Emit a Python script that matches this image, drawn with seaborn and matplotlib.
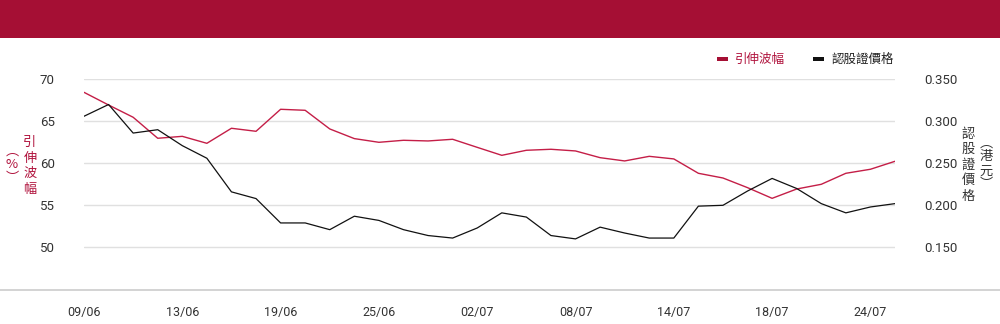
import matplotlib
matplotlib.use("Agg")
import matplotlib.pyplot as plt
import seaborn as sns
import pandas as pd
from matplotlib.lines import Line2D
from matplotlib.patches import Rectangle

dates = ["09/06", "10/06", "11/06", "12/06", "13/06", "16/06", "17/06", "18/06", "19/06",
         "20/06", "23/06", "24/06", "25/06", "26/06", "27/06", "30/06", "02/07", "03/07",
         "04/07", "07/07", "08/07", "09/07", "10/07", "11/07", "14/07", "15/07", "16/07",
         "17/07", "18/07", "21/07", "22/07", "23/07", "24/07", "25/07"]
implied_vol = [68.45, 66.94, 65.48, 62.98, 63.21, 62.38, 64.17, 63.81, 66.43, 66.31,
               64.09, 62.94, 62.50, 62.74, 62.66, 62.86, 61.90, 60.95, 61.55, 61.67,
               61.47, 60.67, 60.28, 60.83, 60.52, 58.81, 58.25, 57.10, 55.83, 56.94,
               57.50, 58.81, 59.29, 60.24]
warrant_price = [0.306, 0.320, 0.286, 0.290, 0.271, 0.256, 0.216, 0.208, 0.179, 0.179,
                 0.171, 0.187, 0.182, 0.171, 0.164, 0.161, 0.173, 0.191, 0.186, 0.164,
                 0.160, 0.174, 0.167, 0.161, 0.161, 0.199, 0.200, 0.217, 0.232, 0.220,
                 0.202, 0.191, 0.198, 0.202]
left_ticks = [50, 55, 60, 65, 70]
right_ticks = [0.150, 0.200, 0.250, 0.300, 0.350]
tick_every = 4

RED = "#c41e47"
RED_TXT = "#b0123c"
BANNER = "#a50f34"

sns.set_theme(style="white")
plt.rcParams["font.family"] = ["Roboto", "Noto Sans CJK TC", "DejaVu Sans"]
CJK = ["Noto Sans CJK TC", "DejaVu Sans"]

df = pd.DataFrame({"idx": range(len(dates)), "iv": implied_vol, "price": warrant_price})

fig = plt.figure(figsize=(10, 3.24), dpi=100)
fig.patch.set_facecolor("white")
fig.patches.append(Rectangle((0, 1 - 38 / 324), 1, 38 / 324, transform=fig.transFigure,
                             facecolor=BANNER, edgecolor="none", zorder=0))
fig.add_artist(Line2D([0, 1], [1 - 289.5 / 324] * 2, transform=fig.transFigure,
                      color="#cccccc", lw=1.2))

ax = fig.add_axes([0.084, 1 - 289.3 / 324, 0.811, (289.3 - 79.3) / 324])
ax2 = ax.twinx()

sns.lineplot(data=df, x="idx", y="iv", ax=ax, color=RED, lw=1.0, zorder=3)
sns.lineplot(data=df, x="idx", y="price", ax=ax2, color="#111111", lw=0.9, zorder=3)

ax.set_xlim(0, len(dates) - 1)
ax.set_ylim(45, 70)
ax2.set_ylim(0.10, 0.35)
ax.set_yticks(left_ticks)
ax.set_yticklabels([str(t) for t in left_ticks])
ax2.set_yticks(right_ticks)
ax2.set_yticklabels([f"{t:.3f}" for t in right_ticks])
xt = list(range(0, len(dates), tick_every))
ax.set_xticks(xt)
ax.set_xticklabels([dates[i] for i in xt])

for a in (ax, ax2):
    for s in a.spines.values():
        s.set_visible(False)
    a.set_xlabel("")
    a.set_ylabel("")
ax.tick_params(axis="y", length=0, pad=21, labelsize=9.5, labelcolor="#333333")
ax2.tick_params(axis="y", length=0, pad=21, labelsize=9.5, labelcolor="#333333")
ax.tick_params(axis="x", length=0, pad=12, labelsize=9, labelcolor="#333333")
ax.grid(axis="y", color="#e0e0e0", lw=1.0)
ax.set_axisbelow(True)
ax.set_zorder(ax2.get_zorder() - 1)
ax.patch.set_visible(True)
ax2.patch.set_visible(False)


def vtext(x, yc, chars, color, pitch=15.5, size=9.5):
    n = len(chars)
    for i, ch in enumerate(chars):
        y = yc + (i - (n - 1) / 2) * pitch
        fig.text(x / 1000, 1 - y / 324, ch, color=color, fontsize=size,
                 family=CJK, ha="center", va="center")


# vertical axis titles
vtext(30, 166, "引伸波幅", RED_TXT)
vtext(12, 165, "︵%︶", RED_TXT, pitch=14)
vtext(968, 165, "認股證價格", "#333333")
vtext(986, 164, "︵港元︶", "#333333", pitch=14)

# legend
ly = 1 - 59 / 324
fig.patches.append(Rectangle((717 / 1000, ly - 2 / 324), 11 / 1000, 4 / 324,
                             transform=fig.transFigure, facecolor=BANNER, edgecolor="none"))
fig.text(735 / 1000, ly, "引伸波幅", color=RED_TXT, fontsize=9, family=CJK, va="center")
fig.patches.append(Rectangle((813 / 1000, ly - 2 / 324), 11 / 1000, 4 / 324,
                             transform=fig.transFigure, facecolor="#111111", edgecolor="none"))
fig.text(832 / 1000, ly, "認股證價格", color="#222222", fontsize=9, family=CJK, va="center")

fig.savefig("out.png", dpi=100, facecolor="white")
